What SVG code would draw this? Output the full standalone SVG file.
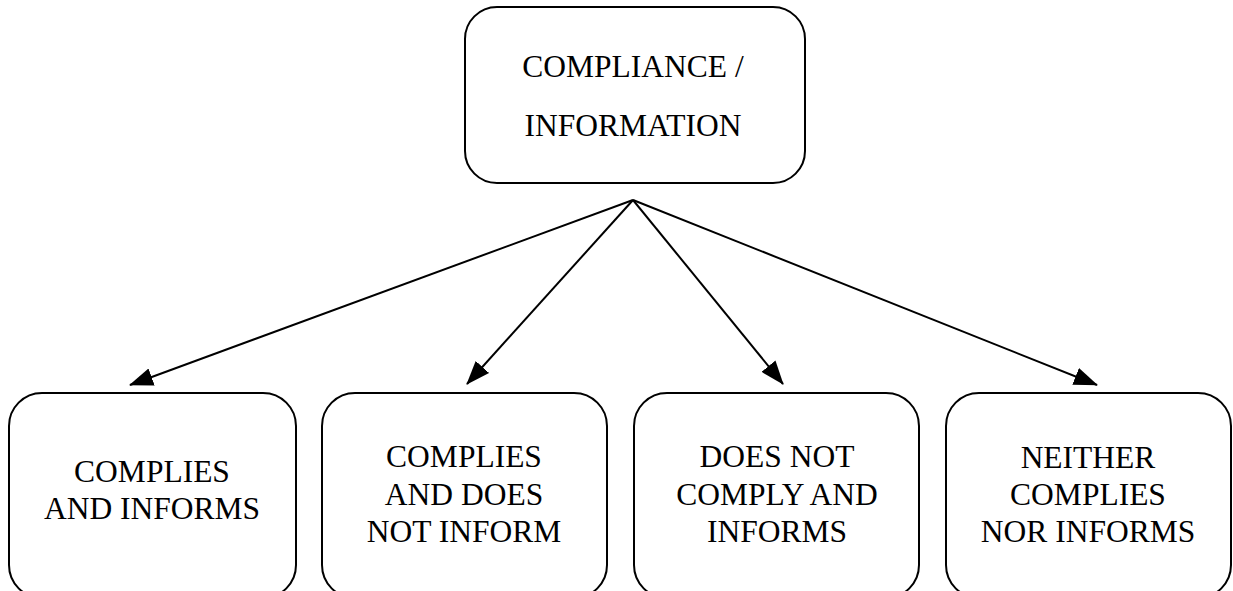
<svg xmlns="http://www.w3.org/2000/svg" width="1233" height="591" viewBox="0 0 1233 591">
<style>
.box{fill:#fff;stroke:#000;stroke-width:2}
.t{font-family:'Liberation Serif',serif;font-size:31.5px;fill:#000;text-anchor:middle}
.c{stroke:#000;stroke-width:2;fill:none;marker-end:url(#ah)}
</style>
<defs>
<marker id="ah" markerUnits="userSpaceOnUse" markerWidth="24" markerHeight="20" viewBox="0 0 24 20" refX="23" refY="10" orient="auto">
<path d="M0,1 L24,10 L0,19 Z" fill="#000"/>
</marker>
</defs>
<rect width="1233" height="591" fill="#fff"/>
<g id="top">
<rect class="box" x="465" y="7" width="340" height="176" rx="32"/>
<text class="t" font-family="Liberation Serif, serif" x="633" y="77">COMPLIANCE /</text>
<text class="t" font-family="Liberation Serif, serif" x="633" y="136">INFORMATION</text>
</g>
<g id="connectors">
<line class="c" x1="633" y1="200" x2="130" y2="385"/>
<line class="c" x1="633" y1="200" x2="467" y2="384"/>
<line class="c" x1="633" y1="200" x2="783" y2="384"/>
<line class="c" x1="633" y1="200" x2="1097" y2="385"/>
</g>
<g id="n1">
<rect class="box" x="9" y="393" width="287" height="205" rx="33"/>
<text class="t" x="152" y="482">COMPLIES</text>
<text class="t" x="152" y="519">AND INFORMS</text>
</g>
<g id="n2">
<rect class="box" x="322" y="393" width="285" height="205" rx="33"/>
<text class="t" x="464" y="467">COMPLIES</text>
<text class="t" x="464" y="505">AND DOES</text>
<text class="t" x="464" y="542">NOT INFORM</text>
</g>
<g id="n3">
<rect class="box" x="634" y="393" width="285" height="205" rx="33"/>
<text class="t" x="777" y="467">DOES NOT</text>
<text class="t" x="777" y="505">COMPLY AND</text>
<text class="t" x="777" y="542">INFORMS</text>
</g>
<g id="n4">
<rect class="box" x="946" y="393" width="285" height="205" rx="33"/>
<text class="t" x="1088" y="468">NEITHER</text>
<text class="t" x="1088" y="505">COMPLIES</text>
<text class="t" x="1088" y="542">NOR INFORMS</text>
</g>
</svg>
